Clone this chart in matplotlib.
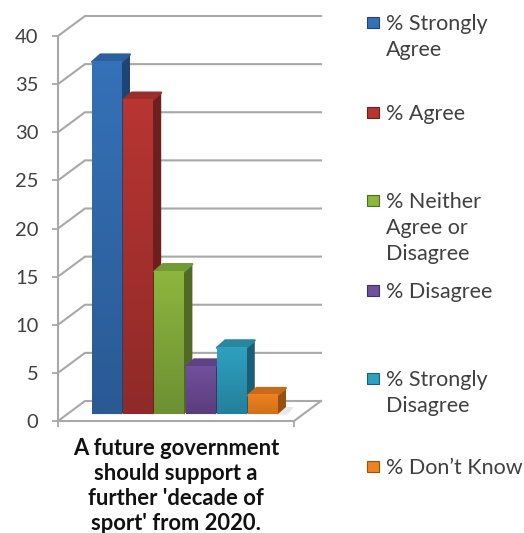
import numpy as np
import matplotlib
matplotlib.use("Agg")
import matplotlib.pyplot as plt
from matplotlib.patches import Polygon, Rectangle
from matplotlib.colors import LinearSegmentedColormap
from matplotlib.transforms import Affine2D

categories = ["% Strongly\nAgree", "% Agree", "% Neither\nAgree or\nDisagree", "% Disagree",
              "% Strongly\nDisagree", "% Don\u2019t Know"]
values = [37, 33, 15, 5, 7, 2]
front_light = ["#3571b8", "#b83532", "#8cb63e", "#71509c", "#2fa0c0", "#ee821f"]
front_dark = ["#2a5a94", "#8f2a28", "#6d9033", "#5a3d7d", "#23809c", "#d26f1a"]
top_col = ["#2c5f9e", "#9c2d2a", "#739a35", "#5f4285", "#26879f", "#c96a18"]
side_col = ["#1f4474", "#6c201e", "#4f6a26", "#43305f", "#1a5f75", "#96500f"]
yticks = [0, 5, 10, 15, 20, 25, 30, 35, 40]
xlabel = "A future government\nshould support a\nfurther 'decade of\nsport' from 2020."
legend_y = [22, 112, 200, 290, 378, 466]

W, H = 524, 533
FONT = "Lato"
fig = plt.figure(figsize=(W / 100, H / 100), dpi=100)
L, R, B, T = 58, 294, 421, 36
ax = fig.add_axes([L / W, 1 - B / H, (R - L) / W, (B - T) / H])
SLOT = 31.2
ax.set_xlim((L - 92) / SLOT, (R - 92) / SLOT)
ax.set_ylim(0, 40)
ppu = (B - T) / 40
dx, dy = 27 / SLOT, 20 / ppu
x0, x1 = ax.get_xlim()

for s in ["top", "right"]:
    ax.spines[s].set_visible(False)
for s in ["left", "bottom"]:
    ax.spines[s].set_color("#a8a8a8")
    ax.spines[s].set_linewidth(1.5)
ax.set_yticks(yticks)
ax.set_xticks([x0, x1])
ax.set_xticklabels([])
ax.tick_params(axis="both", direction="out", length=4, width=1.3, color="#a8a8a8")
ax.tick_params(axis="y", pad=10, labelsize=14.5, labelcolor="#404040")
for t in ax.get_yticklabels():
    t.set_fontfamily(FONT)
ax.set_xlabel(xlabel, fontfamily=FONT, fontweight="bold", fontsize=15.8, color="#111111",
              labelpad=4.5, linespacing=1.24)

# walls
for v in yticks:
    ax.plot([x0, x0 + dx, x1 + dx], [v, v + dy, v + dy], color="#a8a8a8", lw=1.5,
            clip_on=False, zorder=1, solid_joinstyle="miter")
ax.plot([x1, x1 + dx], [0, dy], color="#a8a8a8", lw=1.5, clip_on=False, zorder=1)

# bars
bar_w = 29.5 / SLOT
base = 6.5 / ppu
ox, oy = 8.5 / SLOT, 7.5 / ppu
scale = 0.99
shadow = Polygon([[0, base], [6 + ox, base], [6 + ox + 0.2, base + oy], [0.3, base + oy]],
                 fc="#e9e9e9", ec="none", zorder=1.5, clip_on=False)
ax.add_patch(shadow)
for i, v in enumerate(values):
    z = 2 + i * 0.1
    top = base + v * scale
    ax.add_patch(Polygon([[i + bar_w, base], [i + bar_w + ox, base + oy],
                          [i + bar_w + ox, top + oy], [i + bar_w, top]],
                         fc=side_col[i], ec="none", zorder=z, clip_on=False))
    ax.add_patch(Polygon([[i, top], [i + ox, top + oy], [i + bar_w + ox, top + oy], [i + bar_w, top]],
                         fc=top_col[i], ec=top_col[i], lw=1.5, joinstyle="round", zorder=z, clip_on=False))
    cmap = LinearSegmentedColormap.from_list("f", [front_light[i], front_dark[i]])
    grad = np.linspace(0, 1, 64).reshape(-1, 1)
    ax.imshow(grad, cmap=cmap, extent=[i, i + bar_w, base, top], origin="upper",
              aspect="auto", zorder=z + 0.01, clip_on=False)
ax.set_xlim(x0, x1)
ax.set_ylim(0, 40)

# legend
px = Affine2D().scale(1 / W, -1 / H).translate(0, 1) + fig.transFigure
for i, (c, y) in enumerate(zip(categories, legend_y)):
    fig.add_artist(Rectangle((367, y - 5), 12, 11, fc=front_light[i], ec=side_col[i], lw=0.8, transform=px))
    fig.text(386 / W, 1 - (y - 8) / H, c, fontfamily=FONT, fontsize=15.5,
             color="#404040", va="top", ha="left", linespacing=1.36)

fig.savefig("out.png", dpi=100)
